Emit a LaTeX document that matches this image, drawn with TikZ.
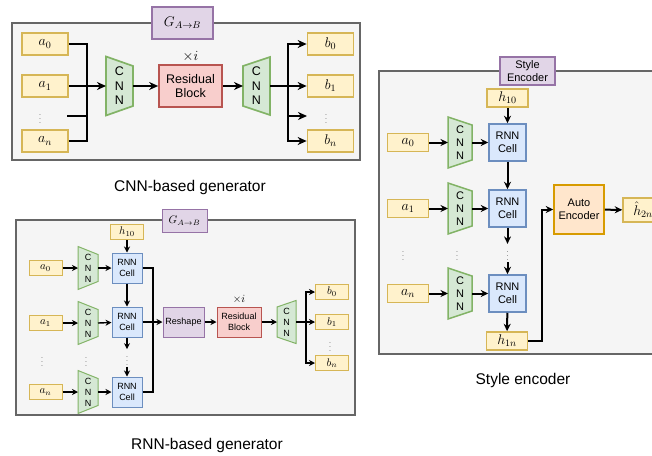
\RequirePackage{fix-cm}
\documentclass[tikz,border=0pt]{standalone}
\usepackage{fontspec}
\setmainfont{Liberation Sans}
\usetikzlibrary{arrows.meta,positioning,calc}

% draw.io palette
\definecolor{frameFill}{HTML}{F5F5F5}
\definecolor{frameLine}{HTML}{666666}
\definecolor{ioFill}{HTML}{FFF2CC}
\definecolor{ioLine}{HTML}{D6B656}
\definecolor{cnnFill}{HTML}{D5E8D4}
\definecolor{cnnLine}{HTML}{82B366}
\definecolor{resFill}{HTML}{F8CECC}
\definecolor{resLine}{HTML}{B85450}
\definecolor{rnnFill}{HTML}{DAE8FC}
\definecolor{rnnLine}{HTML}{6C8EBF}
\definecolor{tagFill}{HTML}{E1D5E7}
\definecolor{tagLine}{HTML}{9673A6}
\definecolor{aeFill}{HTML}{FFE6CC}
\definecolor{aeLine}{HTML}{D79B00}

\tikzset{
  frame/.style={fill=frameFill, draw=frameLine},
  iobox/.style={rectangle, fill=ioFill, draw=ioLine, inner sep=0pt},
  resbox/.style={rectangle, fill=resFill, draw=resLine, inner sep=0pt, align=center},
  rnnbox/.style={rectangle, fill=rnnFill, draw=rnnLine, inner sep=0pt, align=center},
  tagbox/.style={rectangle, fill=tagFill, draw=tagLine, inner sep=0pt, align=center},
  aebox/.style={rectangle, fill=aeFill, draw=aeLine, inner sep=0pt, align=center},
  cnnshape/.style={fill=cnnFill, draw=cnnLine, line join=miter},
  cnntext/.style={inner sep=0pt, align=center},
  dots/.style={inner sep=1pt, text=black!70, font=\fontsize{7}{7}\selectfont},
  caption/.style={font=\fontsize{15.5}{18}\selectfont},
}

% CNN trapezoid: name, centre, half width, half height left, half height right
\newcommand{\cnnblock}[5]{%
  \draw[cnnshape] ($(#2)+(-#3,-#4)$) -- ($(#2)+(#3,-#5)$) -- ($(#2)+(#3,#5)$) -- ($(#2)+(-#3,#4)$) -- cycle;
  \node[cnntext] (#1) at (#2) {C\\N\\N};
  \coordinate (#1-w) at ($(#2)+(-#3,0)$);
  \coordinate (#1-e) at ($(#2)+(#3,0)$);
}

\begin{document}
\begin{tikzpicture}[x=1pt, y=-1pt]
  \useasboundingbox (0,0) rectangle (652,455);
  \clip (0,0) rectangle (652,455);

  % ---- CNN-based generator ----
  \begin{scope}[line width=1.7pt, font=\fontsize{12.5}{14.5}\selectfont,
      wire/.style={line width=2.3pt},
      mth/.style={font=\fontsize{14}{16}\selectfont},
      io/.style={iobox, mth, minimum width=46pt, minimum height=22pt},
      >={Stealth[length=9pt,width=8pt]}]
    \draw[frame, line width=2pt] (12,23) rectangle (360,160);
    \node[tagbox, mth, minimum width=61pt, minimum height=32pt] (cgen) at (182.5,23) {$G_{A\to B}$};

    \node[io] (ca0) at (45,44) {$a_0$};
    \node[io] (ca1) at (45,86) {$a_1$};
    \node[dots] (cadots) at (40,116) {$\vdots$};
    \node[io] (can) at (45,141) {$a_n$};

    \cnnblock{cenc}{119.5,86}{13.5}{29.5}{20}
    \node[resbox, minimum width=63pt, minimum height=42pt] (cres) at (190.5,86) {Residual\\Block};
    \node[mth, above=-2pt of cres] (crep) {$\times i$};
    \cnnblock{cdec}{256.5,86}{13.5}{20}{29}

    \node[io] (cb0) at (330.5,44) {$b_0$};
    \node[io] (cb1) at (330.5,86) {$b_1$};
    \node[dots] (cbdots) at (326,116) {$\vdots$};
    \node[io] (cbn) at (330.5,141) {$b_n$};

    % inputs merge on one bus
    \coordinate (cjin) at (87,86);
    \coordinate (castub) at (67,116);
    \draw[wire] (ca0) -| (cjin);
    \draw[wire] (can) -| (cjin);
    \draw[wire] (castub) -- (castub -| cjin);
    \draw[wire,->] (ca1) -- (cenc-w);
    \draw[wire,->] (cenc-e) -- (cres);
    \draw[wire,->] (cres) -- (cdec-w);

    % outputs split from one bus
    \coordinate (cjout) at (288,86);
    \coordinate (cbstub) at (307,116);
    \draw[wire,->] (cdec-e) -- (cb1);
    \draw[wire,->] (cjout) |- (cb0);
    \draw[wire,->] (cjout) |- (cbn);
    \draw[wire,->] (cjout |- cbstub) -- (cbstub);

    \node[caption] (ccap) at (190,187) {CNN-based generator};
  \end{scope}

  % ---- RNN-based generator ----
  \begin{scope}[line width=1pt, font=\fontsize{9}{11}\selectfont,
      wire/.style={line width=1.4pt},
      mth/.style={font=\fontsize{11}{12}\selectfont},
      io/.style={iobox, mth, minimum width=33pt, minimum height=15pt},
      cell/.style={rnnbox, minimum width=30pt, minimum height=30pt},
      >={Stealth[length=6pt,width=6pt]}]
    \draw[frame, line width=1.3pt] (16,220) rectangle (355,415);
    \node[tagbox, mth, minimum width=45pt, minimum height=23pt] (rgen) at (184.5,220.5) {$G_{A\to B}$};

    \node[io] (rh0) at (127,232) {$h_{10}$};
    \node[io] (ra0) at (45.5,268) {$a_0$};
    \node[io] (ra1) at (45.5,323) {$a_1$};
    \node[io] (ran) at (45.5,392) {$a_n$};
    \node[dots] (radots) at (42,359) {$\vdots$};
    \node[dots] (rcdots) at (86,359) {$\vdots$};

    \cnnblock{renc0}{88,268}{10}{21.5}{13.5}
    \cnnblock{renc1}{88,323}{10}{21.5}{13.5}
    \cnnblock{rencn}{88,392}{10}{21.5}{13.5}

    \node[cell] (rc0) at (127,268) {RNN\\Cell};
    \node[cell] (rc1) at (127,322) {RNN\\Cell};
    \node[dots] (rrdots) at (127,358) {$\vdots$};
    \node[cell] (rcn) at (127,392) {RNN\\Cell};

    \node[tagbox, minimum width=41pt, minimum height=30pt] (rshape) at (183.5,322) {Reshape};
    \node[resbox, minimum width=44pt, minimum height=30pt] (rres) at (239,322) {Residual\\Block};
    \node[mth, above=-1pt of rres] (rrep) {$\times i$};
    \cnnblock{rdec}{286.5,322}{9.5}{15}{21.5}

    \node[io] (rb0) at (332,292) {$b_0$};
    \node[io] (rb1) at (332,322) {$b_1$};
    \node[dots] (rbdots) at (330,344) {$\vdots$};
    \node[io] (rbn) at (332,363) {$b_n$};

    \draw[wire,->] (ra0) -- (renc0-w);
    \draw[wire,->] (ra1) -- (renc1-w);
    \draw[wire,->] (ran) -- (rencn-w);
    \draw[wire,->] (renc0-e) -- (rc0);
    \draw[wire,->] (renc1-e) -- (rc1);
    \draw[wire,->] (rencn-e) -- (rcn);
    \draw[wire,->] (rh0) -- (rc0);
    \draw[wire,->] (rc0) -- (rc1);
    \draw[wire,->] (rc1) -- (rrdots);
    \draw[wire,->] (rrdots) -- (rcn);

    % cell outputs gathered into the reshape
    \coordinate (rjin) at (153,322);
    \draw[wire] (rc0) -| (rjin);
    \draw[wire] (rcn) -| (rjin);
    \draw[wire,->] (rc1) -- (rshape);
    \draw[wire,->] (rshape) -- (rres);
    \draw[wire,->] (rres) -- (rdec-w);

    \coordinate (rjout) at (306,322);
    \draw[wire,->] (rdec-e) -- (rb1);
    \draw[wire,->] (rjout) |- (rb0);
    \draw[wire,->] (rjout) |- (rbn);

    \node[caption] (rcap) at (207,445) {RNN-based generator};
  \end{scope}

  % ---- Style encoder ----
  \begin{scope}[line width=1.5pt, font=\fontsize{11}{13}\selectfont,
      wire/.style={line width=2pt},
      mth/.style={font=\fontsize{14}{15}\selectfont},
      io/.style={iobox, mth, minimum width=41pt, minimum height=18pt},
      cell/.style={rnnbox, minimum width=37pt, minimum height=37pt},
      >={Stealth[length=7.5pt,width=7pt]}]
    \draw[frame] (379,71) rectangle (668,354);
    \node[tagbox, minimum width=55pt, minimum height=28pt] (stag) at (527.5,71) {Style\\Encoder};

    \node[io] (sh0) at (507.5,98) {$h_{10}$};
    \node[io] (sa0) at (408,142.5) {$a_0$};
    \node[io] (sa1) at (408,208.5) {$a_1$};
    \node[io] (san) at (408,293.5) {$a_n$};
    \node[dots] (sadots) at (403,253) {$\vdots$};
    \node[dots] (scdots) at (457,253) {$\vdots$};

    \cnnblock{senc0}{460,142.5}{12}{25.5}{17.5}
    \cnnblock{senc1}{460,208.5}{12}{25.5}{17.5}
    \cnnblock{sencn}{460,293.5}{12}{25.5}{17.5}

    \node[cell] (sc0) at (507.5,142.5) {RNN\\Cell};
    \node[cell] (sc1) at (507.5,208.5) {RNN\\Cell};
    \node[dots] (srdots) at (507.5,253) {$\vdots$};
    \node[cell] (scn) at (507.5,293.5) {RNN\\Cell};
    \node[io] (sh1n) at (507,341) {$h_{1n}$};

    \node[aebox, minimum width=50pt, minimum height=49pt] (sae) at (579,209.5) {Auto\\Encoder};
    \node[iobox, mth, minimum width=40pt, minimum height=24pt] (sh2n) at (643,210) {$\hat{h}_{2n}$};

    \draw[wire,->] (sa0) -- (senc0-w);
    \draw[wire,->] (sa1) -- (senc1-w);
    \draw[wire,->] (san) -- (sencn-w);
    \draw[wire,->] (senc0-e) -- (sc0);
    \draw[wire,->] (senc1-e) -- (sc1);
    \draw[wire,->] (sencn-e) -- (scn);
    \draw[wire,->] (sh0) -- (sc0);
    \draw[wire,->] (sc0) -- (sc1);
    \draw[wire,->] (sc1) -- (srdots);
    \draw[wire,->] (srdots) -- (scn);
    \draw[wire,->] (scn) -- (sh1n);

    % last hidden state into the auto encoder
    \coordinate (sjup) at (542,209.5);
    \draw[wire,->] (sh1n) -| (sjup) -- (sae);
    \draw[wire,->] (sae) -- (sh2n);

    \node[caption] (scap) at (523,380) {Style encoder};
  \end{scope}
\end{tikzpicture}
\end{document}
